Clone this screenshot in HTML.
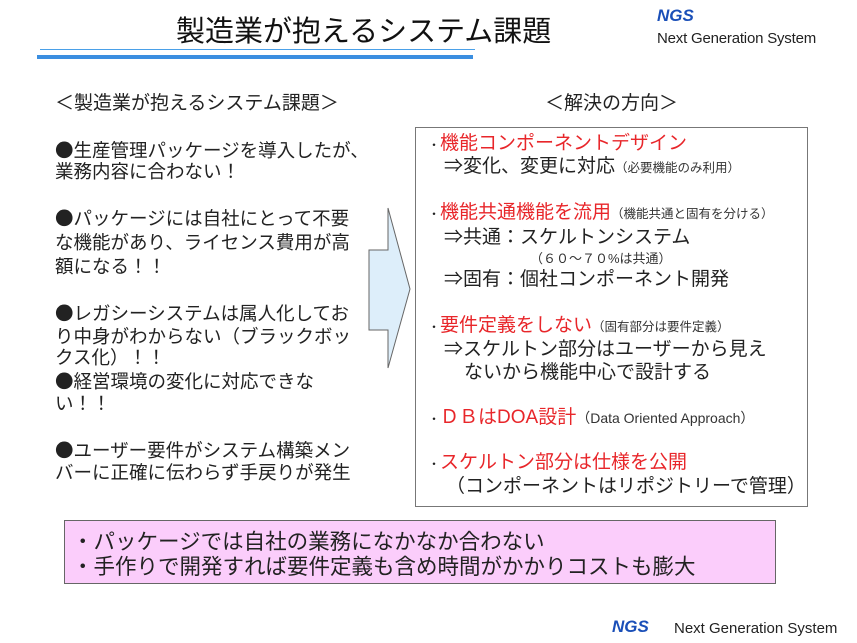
<!DOCTYPE html>
<html><head><meta charset="utf-8"><style>
body{margin:0;width:857px;height:643px;background:#fff;position:relative;overflow:hidden;font-family:"Liberation Sans","Noto Sans CJK JP",sans-serif;color:#222}
.a{position:absolute;white-space:nowrap;line-height:22px}
.l{font-size:18.5px;left:55px}
.r{font-size:19px}
.red{color:#e8262a}
.s{font-size:12.5px;color:#333}
.b{font-family:"Noto Sans CJK JP",sans-serif}
</style></head><body>
<div class="a" style="left:176px;top:14px;font-size:29px;line-height:36px;color:#111">製造業が抱えるシステム課題</div>
<div class="a" style="left:657px;top:5px;font-size:17px;font-weight:bold;font-style:italic;color:#1a4fb8">NGS</div>
<div class="a" style="left:657px;top:28px;font-size:15px;color:#222;letter-spacing:-0.2px">Next Generation System</div>
<div style="position:absolute;left:40px;top:49px;width:435px;height:1px;background:#4aa0e8"></div>
<div style="position:absolute;left:37px;top:55px;width:436px;height:4px;background:#3b8ee0"></div>

<div class="a" style="left:55px;top:93px;font-size:19px">＜製造業が抱えるシステム課題＞</div>
<div class="a" style="left:545px;top:93px;font-size:19px">＜解決の方向＞</div>

<div class="a l" style="top:139px"><span class="b">●</span>生産管理パッケージを導入したが、</div>
<div class="a l" style="top:161px">業務内容に合わない！</div>
<div class="a l" style="top:207px"><span class="b">●</span>パッケージには自社にとって不要</div>
<div class="a l" style="top:232px">な機能があり、ライセンス費用が高</div>
<div class="a l" style="top:256px">額になる！！</div>
<div class="a l" style="top:302px"><span class="b">●</span>レガシーシステムは属人化してお</div>
<div class="a l" style="top:326px">り中身がわからない（ブラックボッ</div>
<div class="a l" style="top:347px">クス化）！！</div>
<div class="a l" style="top:370px"><span class="b">●</span>経営環境の変化に対応できな</div>
<div class="a l" style="top:393px">い！！</div>
<div class="a l" style="top:439px"><span class="b">●</span>ユーザー要件がシステム構築メン</div>
<div class="a l" style="top:462px">バーに正確に伝わらず手戻りが発生</div>

<svg style="position:absolute;left:0;top:0" width="857" height="643">
<polygon points="369,250 388,250 388,208 410,289 388,368 388,330 369,330" fill="#ddeefa" stroke="#666" stroke-width="1"/>
<rect x="415.5" y="127.5" width="392" height="379" fill="none" stroke="#777" stroke-width="1"/>
<rect x="64.5" y="520.5" width="711" height="63" fill="#fbcdfb" stroke="#666" stroke-width="1"/>
</svg>

<div class="a r" style="left:428px;top:133px"><span style="font-size:12px">・</span><span class="red">機能コンポーネントデザイン</span></div>
<div class="a r" style="left:444px;top:156px">⇒変化、変更に対応<span class="s">（必要機能のみ利用）</span></div>
<div class="a r" style="left:428px;top:202px"><span style="font-size:12px">・</span><span class="red">機能共通機能を流用</span><span class="s">（機能共通と固有を分ける）</span></div>
<div class="a r" style="left:444px;top:227px">⇒共通：スケルトンシステム</div>
<div class="a s" style="left:530px;top:248px;font-size:13px">（６０～７０%は共通）</div>
<div class="a r" style="left:444px;top:269px">⇒固有：個社コンポーネント開発</div>
<div class="a r" style="left:428px;top:315px"><span style="font-size:12px">・</span><span class="red">要件定義をしない</span><span class="s">（固有部分は要件定義）</span></div>
<div class="a r" style="left:444px;top:339px">⇒スケルトン部分はユーザーから見え</div>
<div class="a r" style="left:464px;top:362px">ないから機能中心で設計する</div>
<div class="a r" style="left:428px;top:407px"><span style="font-size:12px">・</span><span class="red">ＤＢはDOA設計</span><span class="s" style="font-size:14px">（Data Oriented Approach）</span></div>
<div class="a r" style="left:428px;top:452px"><span style="font-size:12px">・</span><span class="red">スケルトン部分は仕様を公開</span></div>
<div class="a r" style="left:446px;top:476px">（コンポーネントはリポジトリーで管理）</div>

<div class="a" style="left:72px;top:531px;font-size:21.5px">・パッケージでは自社の業務になかなか合わない</div>
<div class="a" style="left:72px;top:556px;font-size:21.5px">・手作りで開発すれば要件定義も含め時間がかかりコストも膨大</div>

<div class="a" style="left:612px;top:616px;font-size:17px;font-weight:bold;font-style:italic;color:#1a4fb8">NGS</div>
<div class="a" style="left:674px;top:618px;font-size:15px">Next Generation System</div>
</body></html>
